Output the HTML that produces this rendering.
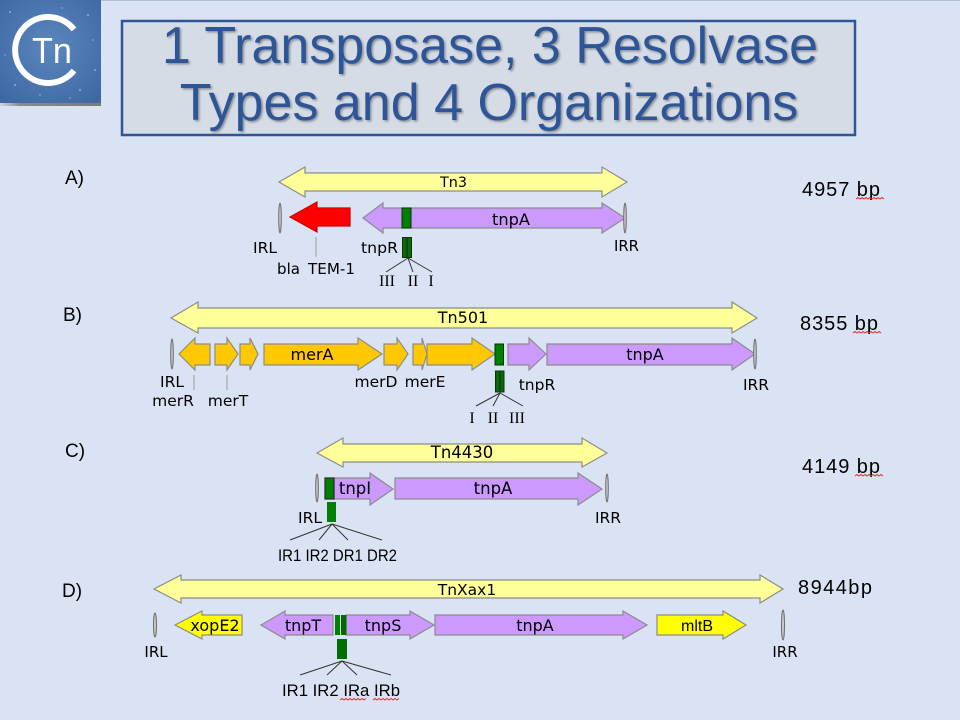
<!DOCTYPE html>
<html><head><meta charset="utf-8"><style>
html,body{margin:0;padding:0;background:#dae3f3;}
svg{display:block;}
</style></head><body>
<svg width="960" height="720" viewBox="0 0 960 720" xmlns="http://www.w3.org/2000/svg">
<defs>
<filter id="sh" x="-5%" y="-5%" width="110%" height="120%"><feDropShadow dx="1.5" dy="1.5" stdDeviation="1" flood-color="#000" flood-opacity="0.35"/></filter>
<radialGradient id="lg" cx="50%" cy="45%" r="70%"><stop offset="0" stop-color="#5c86bd"/><stop offset="1" stop-color="#3d68a3"/></radialGradient>
<linearGradient id="lsh" x1="0" x2="1" y1="0" y2="0"><stop offset="0" stop-color="#d0d4dc"/><stop offset="0.2" stop-color="#8a8a8a"/><stop offset="1" stop-color="#7a7a7a"/></linearGradient>
</defs>
<rect width="960" height="720" fill="#dae3f3"/>
<rect x="0" y="0" width="960" height="1" fill="#b3bfd6"/>

<!-- logo -->
<rect x="0" y="0" width="101" height="103" fill="url(#lg)"/>
<g fill="#cfe0f5" opacity="0.55">
<circle cx="10" cy="12" r="1"/><circle cx="25" cy="30" r="0.8"/><circle cx="88" cy="15" r="1"/><circle cx="93" cy="40" r="0.8"/><circle cx="15" cy="85" r="1"/><circle cx="40" cy="95" r="0.8"/><circle cx="80" cy="90" r="1"/><circle cx="62" cy="8" r="0.8"/><circle cx="5" cy="55" r="0.8"/><circle cx="95" cy="70" r="1"/><circle cx="70" cy="98" r="0.8"/>
</g>
<rect x="0" y="103" width="101" height="3" fill="url(#lsh)"/>
<path d="M74,29.5 A33,33 0 1,0 74,70.5" fill="none" stroke="#fff" stroke-width="6"/>
<text x="32" y="63" font-family="Liberation Sans, sans-serif" font-size="36" fill="#fff" textLength="40" lengthAdjust="spacingAndGlyphs">Tn</text>

<!-- title -->
<rect x="122" y="21" width="733" height="114" fill="#d6dce5" stroke="#2f5597" stroke-width="2.5"/>
<g font-family="Liberation Sans, Arial, sans-serif" font-size="52" fill="#2f5597" text-anchor="middle" filter="url(#sh)">
<text x="490" y="63">1 Transposase, 3 Resolvase</text>
<text x="489" y="120">Types and 4 Organizations</text>
</g>

<!-- section letters & sizes -->
<g font-family="Liberation Sans, sans-serif" font-size="19" fill="#000">
<text x="65" y="184">A)</text>
<text x="63" y="321">B)</text>
<text x="65" y="457">C)</text>
<text x="62" y="597">D)</text>
<text x="802" y="196" font-size="20" textLength="78" lengthAdjust="spacing">4957 bp</text>
<text x="800" y="330" font-size="20" textLength="78" lengthAdjust="spacing">8355 bp</text>
<text x="802" y="473" font-size="20" textLength="78" lengthAdjust="spacing">4149 bp</text>
<text x="798" y="594" font-size="20" textLength="74" lengthAdjust="spacing">8944bp</text>
</g>
<g fill="none" stroke="#e03030" stroke-width="1">
<path d="M856,199 l2,-1.5 l2,1.5 l2,-1.5 l2,1.5 l2,-1.5 l2,1.5 l2,-1.5 l2,1.5 l2,-1.5 l2,1.5 l2,-1.5 l2,1.5 l2,-1.5 l2,1.5"/>
<path d="M853,333 l2,-1.5 l2,1.5 l2,-1.5 l2,1.5 l2,-1.5 l2,1.5 l2,-1.5 l2,1.5 l2,-1.5 l2,1.5 l2,-1.5 l2,1.5 l2,-1.5 l2,1.5"/>
<path d="M855,476 l2,-1.5 l2,1.5 l2,-1.5 l2,1.5 l2,-1.5 l2,1.5 l2,-1.5 l2,1.5 l2,-1.5 l2,1.5 l2,-1.5 l2,1.5 l2,-1.5 l2,1.5"/>
<path d="M340,700 l2,-1.5 l2,1.5 l2,-1.5 l2,1.5 l2,-1.5 l2,1.5 l2,-1.5 l2,1.5 l2,-1.5 l2,1.5 l2,-1.5 l2,1.5 l2,-1.5"/>
<path d="M373,700 l2,-1.5 l2,1.5 l2,-1.5 l2,1.5 l2,-1.5 l2,1.5 l2,-1.5 l2,1.5 l2,-1.5 l2,1.5 l2,-1.5 l2,1.5 l2,-1.5"/>
</g>

<!-- ===== A ===== -->
<g stroke="#8c8c8c" stroke-width="1.2" stroke-linejoin="miter">
<path d="M279,182 L305,167 L305,173 L602,173 L602,167 L627,182 L602,197 L602,191 L305,191 L305,197 Z" fill="#ffff99"/>
<path d="M290,217 L317,202 L317,208 L350,208 L350,226 L317,226 L317,232 Z" fill="#ff0000" stroke="#d00000"/>
<path d="M363,218 L383,203 L383,208 L602,208 L602,203 L625,218 L602,233 L602,228 L383,228 L383,233 Z" fill="#cc99ff"/>
</g>
<rect x="402" y="208" width="9" height="20" fill="#008000" stroke="#003300" stroke-width="1"/>
<g fill="#c8c8c8" stroke="#6e6e6e" stroke-width="1">
<ellipse cx="280" cy="218" rx="1.3" ry="15"/>
<ellipse cx="625" cy="218" rx="1.3" ry="15"/>
</g>
<line x1="316" y1="237" x2="316" y2="257" stroke="#a8a8a8" stroke-width="1.2"/>
<rect x="402.5" y="237.5" width="9" height="20" fill="#0b6a0b" stroke="#063806" stroke-width="1"/>
<line x1="407" y1="238" x2="407" y2="257" stroke="#003000" stroke-width="1"/>
<g stroke="#333" stroke-width="1"><line x1="408" y1="258" x2="386" y2="272"/><line x1="408" y1="258" x2="413" y2="272"/><line x1="408" y1="258" x2="432" y2="272"/></g>
<g font-family="DejaVu Sans, Verdana, sans-serif" font-size="15" fill="#000">
<text x="253" y="253" textLength="24" lengthAdjust="spacingAndGlyphs">IRL</text>
<text x="277" y="274" textLength="23" lengthAdjust="spacingAndGlyphs">bla</text>
<text x="308" y="274" textLength="47" lengthAdjust="spacingAndGlyphs">TEM-1</text>
<text x="361" y="253" textLength="37" lengthAdjust="spacingAndGlyphs">tnpR</text>
<text x="614" y="251" textLength="25" lengthAdjust="spacingAndGlyphs">IRR</text>
<text x="440" y="187" font-size="14" textLength="27" lengthAdjust="spacingAndGlyphs">Tn3</text>
<text x="492" y="225" font-size="16" textLength="38" lengthAdjust="spacingAndGlyphs">tnpA</text>
</g>
<g font-family="Liberation Serif, serif" font-size="16" fill="#000" text-anchor="middle">
<text x="387" y="286">III</text><text x="413" y="286">II</text><text x="431" y="286">I</text>
</g>

<!-- ===== B ===== -->
<g stroke="#8c8c8c" stroke-width="1.2">
<path d="M171,318 L198,302 L198,308 L732,308 L732,302 L757,318 L732,333 L732,328 L198,328 L198,333 Z" fill="#ffff99"/>
<g fill="#ffc800">
<path d="M179,354 L195,338 L195,344 L210,344 L210,365 L195,365 L195,370 Z"/>
<path d="M215,344 L227,344 L227,338 L238,354 L227,370 L227,365 L215,365 Z"/>
<path d="M240,344 L250,344 L250,338 L258,354 L250,370 L250,365 L240,365 Z"/>
<path d="M264,344 L358,344 L358,338 L382,354 L358,370 L358,365 L264,365 Z"/>
<path d="M384,344 L397,344 L397,338 L408,354 L397,370 L397,365 L384,365 Z"/>
<path d="M413,344 L422,344 L422,338 L427,354 L422,370 L422,365 L413,365 Z"/>
<path d="M427,344 L472,344 L472,338 L495,354 L472,370 L472,365 L427,365 Z"/>
</g>
<g fill="#cc99ff">
<path d="M508,344 L529,344 L529,338 L546,354 L529,370 L529,365 L508,365 Z"/>
<path d="M547,344 L732,344 L732,338 L755,354 L732,370 L732,365 L547,365 Z"/>
</g>
</g>
<rect x="495" y="344" width="8.5" height="21" fill="#008000" stroke="#003300" stroke-width="1"/>
<g fill="#c8c8c8" stroke="#6e6e6e" stroke-width="1">
<ellipse cx="172" cy="354" rx="1.3" ry="15"/>
<ellipse cx="755" cy="354" rx="1.3" ry="15"/>
</g>
<g stroke="#a8a8a8" stroke-width="1.2"><line x1="194" y1="375" x2="194" y2="390"/><line x1="227" y1="375" x2="227" y2="390"/></g>
<rect x="495.5" y="371" width="8.5" height="21" fill="#0b6a0b" stroke="#063806" stroke-width="1"/>
<line x1="500" y1="372" x2="500" y2="391" stroke="#003000" stroke-width="1"/>
<g stroke="#333" stroke-width="1"><line x1="500" y1="393" x2="476" y2="406"/><line x1="500" y1="393" x2="493" y2="406"/><line x1="500" y1="393" x2="523" y2="406"/></g>
<g font-family="DejaVu Sans, Verdana, sans-serif" font-size="15.5" fill="#000" text-anchor="middle">
<text x="463" y="323" font-size="16">Tn501</text>
<text x="312" y="360" font-size="16">merA</text>
<text x="645" y="360" font-size="16">tnpA</text>
<text x="172" y="387">IRL</text>
<text x="173" y="406">merR</text>
<text x="228" y="406">merT</text>
<text x="376" y="387">merD</text>
<text x="425" y="387">merE</text>
<text x="537" y="390">tnpR</text>
<text x="756" y="390">IRR</text>
</g>
<g font-family="Liberation Serif, serif" font-size="16" fill="#000" text-anchor="middle">
<text x="472" y="423">I</text><text x="493" y="423">II</text><text x="517" y="423">III</text>
</g>

<!-- ===== C ===== -->
<g stroke="#8c8c8c" stroke-width="1.2">
<path d="M317,453 L343,438 L343,444 L582,444 L582,438 L607,453 L582,467 L582,462 L343,462 L343,467 Z" fill="#ffff99"/>
<g fill="#cc99ff">
<path d="M334,478 L370,478 L370,473 L393,489 L370,505 L370,499 L334,499 Z"/>
<path d="M395,478 L578,478 L578,473 L602,489 L578,505 L578,499 L395,499 Z"/>
</g>
</g>
<rect x="325" y="478" width="9" height="21" fill="#008000" stroke="#2b2b2b" stroke-width="1.2"/>
<g fill="#c8c8c8" stroke="#6e6e6e" stroke-width="1">
<ellipse cx="317" cy="488" rx="1.3" ry="14"/>
<ellipse cx="607" cy="488" rx="1.3" ry="14"/>
</g>
<rect x="327" y="502" width="9" height="20" fill="#008000"/>
<g stroke="#333" stroke-width="1"><line x1="332" y1="524" x2="290" y2="540"/><line x1="332" y1="524" x2="319" y2="540"/><line x1="332" y1="524" x2="348" y2="540"/><line x1="332" y1="524" x2="382" y2="540"/></g>
<g font-family="DejaVu Sans, Verdana, sans-serif" font-size="16.5" fill="#000" text-anchor="middle">
<text x="462" y="458">Tn4430</text>
<text x="355" y="494">tnpI</text>
<text x="493" y="494">tnpA</text>
<text x="310" y="523" font-size="15.5">IRL</text>
<text x="608" y="523" font-size="15.5">IRR</text>
</g>
<text x="278" y="561" font-family="Liberation Sans, sans-serif" font-size="16.5" fill="#000" textLength="119" lengthAdjust="spacingAndGlyphs">IR1 IR2 DR1 DR2</text>

<!-- ===== D ===== -->
<g stroke="#8c8c8c" stroke-width="1.2">
<path d="M154,589 L181,575 L181,580 L760,580 L760,575 L783,589 L760,603 L760,598 L181,598 L181,603 Z" fill="#ffff99"/>
<path d="M175,625 L202,611 L202,615 L242,615 L242,635 L202,635 L202,639 Z" fill="#ffff00"/>
<path d="M657,615 L723,615 L723,611 L746,625 L723,639 L723,635 L657,635 Z" fill="#ffff00"/>
<g fill="#cc99ff">
<path d="M261,625 L285,611 L285,615 L333,615 L333,635 L285,635 L285,639 Z"/>
<path d="M346,615 L410,615 L410,611 L434,625 L410,639 L410,635 L346,635 Z"/>
<path d="M435,615 L623,615 L623,611 L647,625 L623,639 L623,635 L435,635 Z"/>
</g>
</g>
<rect x="335" y="615" width="5" height="20" fill="#008000"/>
<rect x="341" y="615" width="5.5" height="20" fill="#006a00"/>
<g fill="#c8c8c8" stroke="#6e6e6e" stroke-width="1">
<ellipse cx="155" cy="625" rx="1.5" ry="12"/>
<ellipse cx="783" cy="625" rx="1.5" ry="15"/>
</g>
<rect x="337" y="639" width="10" height="20" fill="#007000"/>
<g stroke="#333" stroke-width="1"><line x1="342" y1="661" x2="300" y2="675"/><line x1="342" y1="661" x2="327" y2="675"/><line x1="342" y1="661" x2="357" y2="675"/><line x1="342" y1="661" x2="391" y2="675"/></g>
<g font-family="DejaVu Sans, Verdana, sans-serif" font-size="16" fill="#000" text-anchor="middle">
<text x="467" y="595" font-size="15.5">TnXax1</text>
<text x="215" y="631">xopE2</text>
<text x="303" y="631">tnpT</text>
<text x="383" y="631">tnpS</text>
<text x="535" y="631">tnpA</text>
<text x="697" y="631" font-family="Liberation Sans, sans-serif" font-size="16">mltB</text>
<text x="156" y="657" font-size="15">IRL</text>
<text x="785" y="657" font-size="15">IRR</text>
</g>
<text x="282" y="696" font-family="Liberation Sans, sans-serif" font-size="17" fill="#000" textLength="118" lengthAdjust="spacingAndGlyphs">IR1 IR2 IRa IRb</text>
</svg>
</body></html>
